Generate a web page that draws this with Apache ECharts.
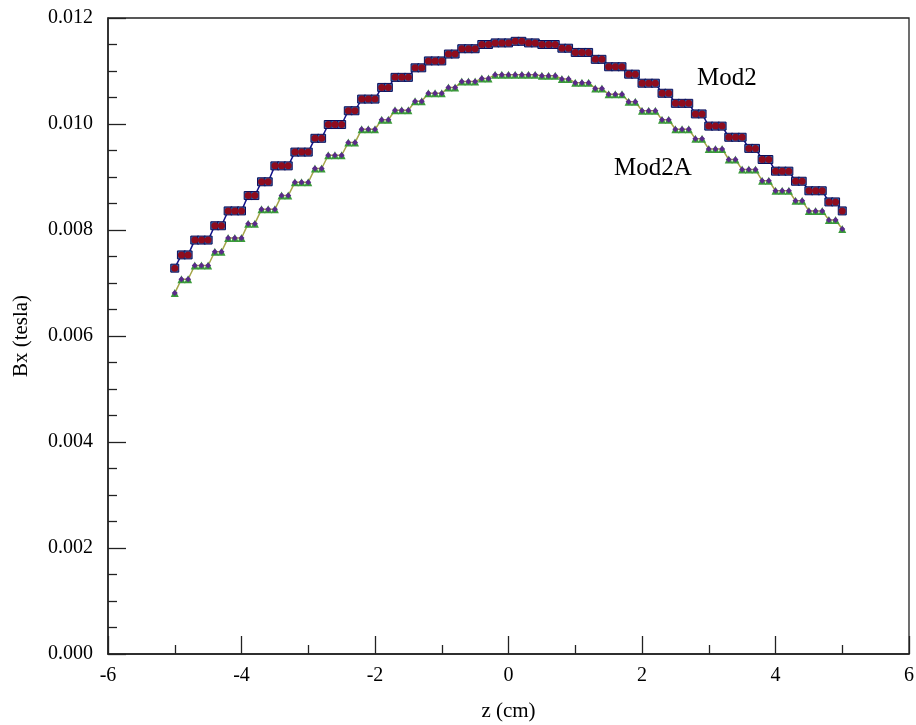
<!DOCTYPE html>
<html>
<head>
<meta charset="utf-8">
<script src="https://cdn.jsdelivr.net/npm/echarts@6/dist/echarts.min.js"></script>
<style>
html,body{margin:0;padding:0;background:#fff;}
#chart{width:916px;height:725px;}
</style>
</head>
<body>
<div id="chart"></div>
<script>
// z positions (cm), 0.1 cm step from -5 to 5
const zValues = [
-5.0,-4.9,-4.8,-4.7,-4.6,-4.5,-4.4,-4.3,-4.2,-4.1,-4.0,-3.9,-3.8,-3.7,-3.6,-3.5,-3.4,-3.3,-3.2,-3.1,-3.0,
-2.9,-2.8,-2.7,-2.6,-2.5,-2.4,-2.3,-2.2,-2.1,-2.0,-1.9,-1.8,-1.7,-1.6,-1.5,-1.4,-1.3,-1.2,-1.1,-1.0,
-0.9,-0.8,-0.7,-0.6,-0.5,-0.4,-0.3,-0.2,-0.1,0.0,0.1,0.2,0.3,0.4,0.5,0.6,0.7,0.8,0.9,1.0,
1.1,1.2,1.3,1.4,1.5,1.6,1.7,1.8,1.9,2.0,2.1,2.2,2.3,2.4,2.5,2.6,2.7,2.8,2.9,3.0,
3.1,3.2,3.3,3.4,3.5,3.6,3.7,3.8,3.9,4.0,4.1,4.2,4.3,4.4,4.5,4.6,4.7,4.8,4.9,5.0];

// Bx (tesla) for Mod2
const mod2 = [
0.00728,0.00753,0.00753,0.00781,0.00781,0.00781,0.00808,0.00808,0.00836,0.00836,0.00836,
0.00865,0.00865,0.00891,0.00891,0.00921,0.00921,0.00921,0.00947,0.00947,0.00947,
0.00973,0.00973,0.00999,0.00999,0.00999,0.01025,0.01025,0.01047,0.01047,0.01047,
0.01069,0.01069,0.01088,0.01088,0.01088,0.01106,0.01106,0.01119,0.01119,0.01119,
0.01132,0.01132,0.01142,0.01142,0.01142,0.01150,0.01150,0.01153,0.01153,0.01153,
0.01156,0.01156,0.01153,0.01153,0.01150,0.01150,0.01150,0.01143,0.01143,0.01135,
0.01135,0.01135,0.01122,0.01122,0.01108,0.01108,0.01108,0.01094,0.01094,0.01077,
0.01077,0.01077,0.01058,0.01058,0.01039,0.01039,0.01039,0.01019,0.01019,0.00996,
0.00996,0.00996,0.00975,0.00975,0.00975,0.00954,0.00954,0.00933,0.00933,0.00911,
0.00911,0.00911,0.00892,0.00892,0.00874,0.00874,0.00874,0.00853,0.00853,0.00836];

// Bx (tesla) for Mod2A
const mod2A = [
0.00681,0.00707,0.00707,0.00733,0.00733,0.00733,0.00759,0.00759,0.00785,0.00785,0.00785,
0.00812,0.00812,0.00839,0.00839,0.00839,0.00865,0.00865,0.00890,0.00890,0.00890,
0.00916,0.00916,0.00941,0.00941,0.00941,0.00965,0.00965,0.00990,0.00990,0.00990,
0.01008,0.01008,0.01026,0.01026,0.01026,0.01043,0.01043,0.01058,0.01058,0.01058,
0.01069,0.01069,0.01080,0.01080,0.01080,0.01086,0.01086,0.01093,0.01093,0.01093,
0.01093,0.01093,0.01093,0.01093,0.01091,0.01091,0.01091,0.01085,0.01085,0.01078,
0.01078,0.01078,0.01067,0.01067,0.01056,0.01056,0.01056,0.01042,0.01042,0.01025,
0.01025,0.01025,0.01008,0.01008,0.00990,0.00990,0.00990,0.00972,0.00972,0.00953,
0.00953,0.00953,0.00933,0.00933,0.00914,0.00914,0.00914,0.00893,0.00893,0.00874,
0.00874,0.00874,0.00855,0.00855,0.00836,0.00836,0.00836,0.00819,0.00819,0.00802];

const seriesNames = ['Mod2', 'Mod2A'];
const xTicks = [-6, -4, -2, 0, 2, 4, 6];
const yTicks = [0.000, 0.002, 0.004, 0.006, 0.008, 0.010, 0.012];

const pts = arr => zValues.map((z, i) => [z, arr[i]]);
const FONT = '"Liberation Serif","Times New Roman",serif';

const chart = echarts.init(document.getElementById('chart'), null, {renderer: 'canvas'});
chart.setOption({
  animation: false,
  backgroundColor: '#fff',
  grid: {left: 108, right: 7, top: 18, bottom: 71, outerBoundsMode: 'none', containLabel: false,
         show: true, borderColor: '#222', borderWidth: 1.3, backgroundColor: 'transparent'},
  xAxis: {
    type: 'value', min: xTicks[0], max: xTicks[xTicks.length - 1], interval: 2,
    name: 'z (cm)', nameLocation: 'middle', nameGap: 47,
    nameTextStyle: {fontFamily: FONT, fontSize: 21, color: '#000'},
    axisLine: {onZero: false, lineStyle: {color: '#222', width: 1.5}},
    axisTick: {inside: true, length: 18, lineStyle: {color: '#222', width: 1.3}},
    minorTick: {show: true, splitNumber: 2, length: 9, lineStyle: {color: '#222', width: 1.3}},
    splitLine: {show: false},
    axisLabel: {fontFamily: FONT, fontSize: 20, color: '#000', margin: 12, formatter: v => String(v)}
  },
  yAxis: {
    type: 'value', min: yTicks[0], max: yTicks[yTicks.length - 1], interval: 0.002,
    name: 'Bx (tesla)', nameLocation: 'middle', nameGap: 76, nameRotate: 90,
    nameTextStyle: {fontFamily: FONT, fontSize: 21, color: '#000'},
    axisLine: {show: true, onZero: false, lineStyle: {color: '#222', width: 1.5}},
    axisTick: {show: true, inside: true, length: 18, lineStyle: {color: '#222', width: 1.3}},
    minorTick: {show: true, splitNumber: 4, length: 9, lineStyle: {color: '#222', width: 1.3}},
    splitLine: {show: false},
    axisLabel: {fontFamily: FONT, fontSize: 20, color: '#000', margin: 15, formatter: v => v.toFixed(3)}
  },
  series: [
    {
      name: seriesNames[0], type: 'line', data: pts(mod2), z: 2,
      symbol: 'rect', symbolSize: 8, showAllSymbol: true,
      lineStyle: {color: '#14148a', width: 1.5},
      itemStyle: {color: '#2a6fb5', borderColor: '#0e0e5a', borderWidth: 1}
    },
    {
      name: seriesNames[1], type: 'line', data: pts(mod2A), z: 2,
      symbol: 'triangle', symbolSize: 8, showAllSymbol: true,
      lineStyle: {color: '#a4a448', width: 1.5},
      itemStyle: {color: '#3a9a3a', borderColor: '#3a9a3a', borderWidth: 0}
    },
    {
      name: seriesNames[0] + ' pts', type: 'scatter', data: pts(mod2), z: 5,
      symbol: 'circle', symbolSize: 7,
      itemStyle: {color: '#8e0c1e', opacity: 1}
    },
    {
      name: seriesNames[1] + ' pts', type: 'scatter', data: pts(mod2A), z: 5,
      symbol: 'diamond', symbolSize: 6,
      itemStyle: {color: '#5a2a8a', opacity: 1}
    }
  ],
  graphic: [
    {type: 'text', left: 697, top: 66, style: {text: seriesNames[0], font: '25px ' + FONT, fill: '#000'}},
    {type: 'text', left: 614, top: 156, style: {text: seriesNames[1], font: '25px ' + FONT, fill: '#000'}}
  ]
});
</script>
</body>
</html>
